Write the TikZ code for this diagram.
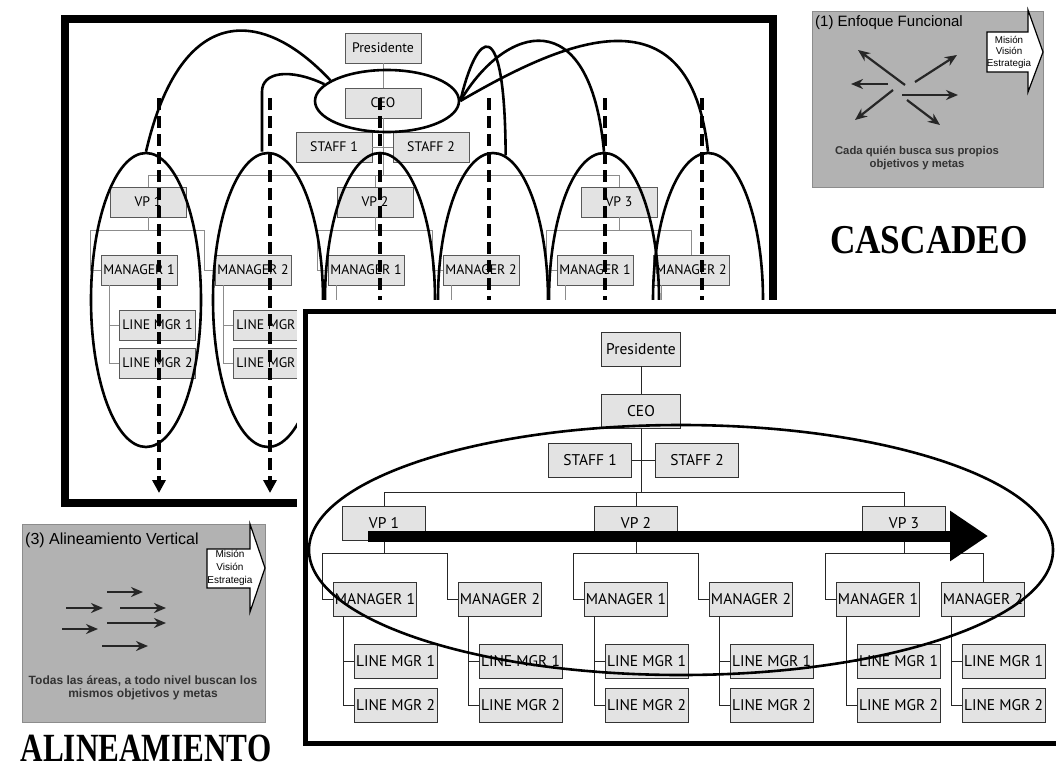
\documentclass[tikz,border=0pt]{standalone}
\usepackage{fontspec}
\setmainfont{Liberation Sans}
\newfontfamily\orgfont{PT Sans}
\newfontfamily\bigfont{Liberation Serif}
\usetikzlibrary{arrows.meta,calc,positioning,shapes.geometric}

\tikzset{
 orgbox/.style={draw=black!80,fill=black!11,inner sep=0pt,minimum width=83pt,minimum height=34pt,font=\orgfont\fontsize{15.5}{15.5}\selectfont},
 backbox/.style={draw=black!65,fill=black!11,inner sep=0pt,minimum width=76pt,minimum height=30pt,font=\orgfont\fontsize{13.8}{13.8}\selectfont},
 orgline/.style={draw=black!85,line width=1pt},
 backline/.style={draw=black!45,line width=1pt},
 ring/.style={line width=2.6pt},
 oval/.style={draw,ellipse,ring,inner sep=0pt,minimum width=110pt,minimum height=294pt},
 cascade/.style={line width=3.5pt,dash pattern=on 12pt off 6pt,-{Triangle[length=13pt,width=13pt]}},
 panel/.style={draw=black!45,fill=black!30,line width=1pt},
 pointer/.style={draw=black!85,line width=2.2pt,-{Stealth[length=12pt,width=10pt]}},
 keyarrow/.style={draw=black,fill=white,line width=1.2pt},
 keytext/.style={font=\fontsize{9.8}{11.5}\selectfont,align=center,inner sep=0pt},
 paneltext/.style={font=\bfseries\fontsize{11.3}{13}\selectfont,text=black!80,align=center,inner sep=0pt},
 headline/.style={font=\bigfont\bfseries\fontsize{41}{41}\selectfont,inner sep=0pt},
}

\begin{document}
\begin{tikzpicture}[x=1pt,y=-1pt,>=Latex]
\useasboundingbox (0,0) rectangle (1056,771);
\draw[line width=8pt] (64.5,19) rectangle (772.5,503);
\begin{scope}
\node[backbox] (bPres) at (383,48) {Presidente};
\node[backbox] (bCEO) at (383,103) {CEO};
\node[backbox] (bS1) at (334,147) {STAFF 1};
\node[backbox] (bS2) at (431,147) {STAFF 2};
\coordinate (bTop) at (383,175);
\draw[backline] (bPres) -- (bCEO);
\draw[backline] (bCEO) -- (bTop);
\draw[backline] (bS1) -- (bS2);
\foreach \v/\vx/\ax/\bx in {1/148/139/253,2/375/366/481,3/619/595/691}{
 \node[backbox] (bV\v) at (\vx,202) {VP \v};
 \node[backbox] (bMa\v) at (\ax,270) {MANAGER 1};
 \node[backbox] (bMb\v) at (\bx,270) {MANAGER 2};
 \coordinate (bB\v) at (\vx,230);
 \draw[backline] (bV\v.north) -- (bV\v.north |- bTop);
 \draw[backline] (bV\v) -- (bB\v);
 \draw[backline] (bB\v) -| ([xshift=-10pt]bMa\v.west) -- (bMa\v.west);
 \ifnum\v=3
  \draw[backline] (bB\v) -| (bMb\v.north);
 \else
  \draw[backline] (bB\v) -| ([xshift=-10pt]bMb\v.west) -- (bMb\v.west);
 \fi
 \foreach \m in {Ma,Mb}{
  \node[backbox] (b\m\v L1) at ($(b\m\v)+(18.5,55)$) {LINE MGR 1};
  \node[backbox] (b\m\v L2) at ($(b\m\v)+(18.5,93)$) {LINE MGR 2};
  \draw[backline] ([xshift=9pt]b\m\v.south west) |- (b\m\v L1.west);
  \draw[backline] ([xshift=9pt]b\m\v.south west) |- (b\m\v L2.west);
 }
}
\draw[backline] (bV1.north |- bTop) -- (bV3.north |- bTop);
\foreach \o/\cx in {1/146,2/268,3/380,4/493,5/604,6/708}
 \node[oval] (bOv\o) at (\cx,300) {};
\foreach \dx in {159,270,380,489,605,702}
 \draw[cascade] (\dx,98) -- (\dx,493);
\node[draw,ellipse,ring,inner sep=0pt,minimum width=144pt,minimum height=62pt] (bRing) at (387,101) {};
\draw[ring] (bOv1.north) .. controls (180,5) and (260,5) .. (bRing.160);
\draw[ring] ([xshift=-6pt]bOv2.north) -- ++(0,-60) .. controls +(0,-20) and (290,68) .. (bRing.165);
\draw[ring] (bRing.east) .. controls (477,30) and (505,10) .. (bOv4.85);
\draw[ring] (bRing.east) .. controls (505,25) and (590,0) .. (bOv5.north);
\draw[ring] (bRing.east) .. controls (565,40) and (690,-15) .. (bOv6.north);
\end{scope}

\fill[white] (297,300) rectangle (1070,760);
\draw[line width=5.5pt] (305.5,311.5) rectangle (1070,743.5);
\begin{scope}
\node[orgbox,minimum width=79pt] (fPres) at (641,349) {Presidente};
\node[orgbox,minimum width=79pt] (fCEO) at (641,411) {CEO};
\node[orgbox] (fS1) at (590,460) {STAFF 1};
\node[orgbox] (fS2) at (697,460) {STAFF 2};
\coordinate (fTop) at (641,492);
\draw[orgline] (fPres) -- (fCEO);
\draw[orgline] (fCEO) -- (fTop);
\draw[orgline] (fS1) -- (fS2);
\foreach \v/\vx/\ax/\bx in {1/384/375/500,2/636/626/751,3/904/878/983}{
 \node[orgbox] (fV\v) at (\vx,523) {VP \v};
 \node[orgbox] (fMa\v) at (\ax,599) {MANAGER 1};
 \node[orgbox] (fMb\v) at (\bx,599) {MANAGER 2};
 \coordinate (fB\v) at (\vx,553);
 \draw[orgline] (fV\v.north) -- (fV\v.north |- fTop);
 \draw[orgline] (fV\v) -- (fB\v);
 \draw[orgline] (fB\v) -| ([xshift=-11pt]fMa\v.west) -- (fMa\v.west);
 \ifnum\v=3
  \draw[orgline] (fB\v) -| (fMb\v.north);
 \else
  \draw[orgline] (fB\v) -| ([xshift=-11pt]fMb\v.west) -- (fMb\v.west);
 \fi
 \foreach \m in {Ma,Mb}{
  \node[orgbox] (f\m\v L1) at ($(f\m\v)+(20.5,62)$) {LINE MGR 1};
  \node[orgbox] (f\m\v L2) at ($(f\m\v)+(20.5,106)$) {LINE MGR 2};
  \draw[orgline] ([xshift=10pt]f\m\v.south west) |- (f\m\v L1.west);
  \draw[orgline] ([xshift=10pt]f\m\v.south west) |- (f\m\v L2.west);
 }
}
\draw[orgline] (fV1.north |- fTop) -- (fV3.north |- fTop);
\draw[ring] (681,550) ellipse [x radius=372,y radius=125];
\coordinate (flowA) at (368,536);
\coordinate (flowB) at (988,536);
\draw[line width=11pt,-{Triangle[length=38pt,width=48pt]}] (flowA) -- (flowB);
\end{scope}

\draw[panel] (812,11) rectangle (1043,187);
\node[anchor=west,inner sep=0pt,font=\fontsize{15}{15}\selectfont] (p1Title) at (815,23) {(1) Enfoque Funcional};
\draw[keyarrow] (987,32) -- (1028,32) -- (1028,10) -- (1043,52) -- (1028,92) -- (1028,72) -- (987,72) -- cycle;
\node[keytext] (p1Key) at (1009,52) {Misión\\Visión\\Estrategia};
\draw[pointer] (905,85) -- (858,50);
\draw[pointer] (915,82) -- (957,55);
\draw[pointer] (888,84) -- (851,84);
\draw[pointer] (902,95) -- (958,95);
\draw[pointer] (893,90) -- (855,120);
\draw[pointer] (907,100) -- (940,125);
\node[paneltext] (p1Text) at (917,158) {Cada quién busca sus propios\\objetivos y metas};

\draw[panel] (22,524) rectangle (265,722);
\node[anchor=west,inner sep=0pt,font=\fontsize{16}{16}\selectfont] (p3Title) at (25,540) {(3) Alineamiento Vertical};
\draw[keyarrow] (207,549) -- (250,549) -- (250,524) -- (265,568) -- (250,612) -- (250,588) -- (207,588) -- cycle;
\node[keytext,font=\fontsize{10}{13}\selectfont] (p3Key) at (230,568) {Misión\\Visión\\Estrategia};
\draw[pointer] (107,592) -- (143,592);
\draw[pointer] (66,608) -- (103,608);
\draw[pointer] (120,608) -- (166,608);
\draw[pointer] (107,623) -- (166,623);
\draw[pointer] (62,629) -- (98,629);
\draw[pointer] (102,646) -- (148,646);
\node[paneltext,font=\bfseries\fontsize{12}{13.5}\selectfont] (p3Text) at (143,688) {Todas las áreas, a todo nivel buscan los\\mismos objetivos y metas};

\node[headline] (hCas) at (929,240) {\scalebox{0.86}[1]{CASCADEO}};
\node[headline,font=\bigfont\bfseries\fontsize{40}{40}\selectfont] (hAli) at (146,748) {\scalebox{0.78}[1]{ALINEAMIENTO}};
\end{tikzpicture}
\end{document}
